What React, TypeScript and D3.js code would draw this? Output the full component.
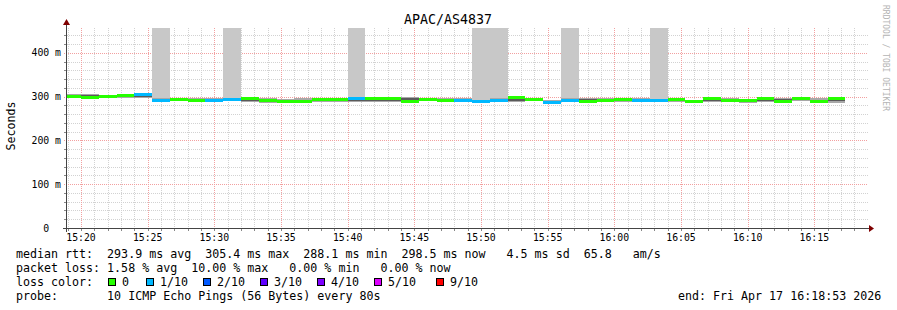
import React from 'react';
import * as d3 from 'd3';

const title = 'APAC/AS4837';
const yAxisLabel = 'Seconds';
const watermark = 'RRDTOOL / TOBI OETIKER';
const stepSeconds = 80;
const firstStart = new Date(2026, 3, 17, 15, 18, 40);
const viewStart = new Date(2026, 3, 17, 15, 18, 57);
const viewEnd = new Date(2026, 3, 17, 16, 18, 57);

const median = [300.6, 299.4, 300.0, 301.7, 304.7, 290.3, 294.0, 291.8, 290.3, 292.6, 295.6, 290.3, 288.0, 288.0, 292.6, 292.6, 296.4, 295.6, 296.0, 288.8, 292.6, 290.3, 291.0, 288.0, 291.8, 297.9, 292.6, 287.3, 290.3, 288.8, 290.3, 292.6, 291.0, 291.0, 293.4, 288.8, 296.4, 290.3, 290.3, 294.9, 289.6, 296.4, 289.6, 296.4];
const smokeMax = [306, 306, 302, 306, 307, 297, 295, 297, 297, 296, 298, 297, 294, 296, 296, 296, 298, 298, 298, 300, 298, 297, 297, 290, 297, 299, 297, 292, 297, 297, 297, 296, 297, 294, 297, 292, 298, 296, 294, 297, 297, 298, 296, 298];
const smokeMin = [297, 297, 297, 296, 297, 288, 290, 290, 288, 290, 288, 286, 285, 285, 287, 287, 288, 288, 288, 287, 290, 288, 288, 285, 290, 288, 290, 285, 288, 288, 288, 287, 288, 288, 288, 287, 288, 288, 286, 288, 286, 291, 286, 286];
const lostPings = [0, 0, 0, 0, 0, 1, 0, 0, 0, 1, 0, 0, 0, 0, 0, 0, 1, 0, 0, 0, 0, 0, 0, 1, 1, 0, 0, 0, 1, 0, 0, 0, 0, 1, 0, 0, 0, 0, 0, 0, 0, 0, 0, 0];
const bandLoss = [0, 0, 0, 0, 1, 1, 0, 0, 1, 1, 0, 0, 0, 0, 0, 0, 1, 0, 0, 0, 0, 0, 1, 1, 1, 0, 0, 1, 1, 0, 0, 0, 1, 1, 0, 0, 0, 0, 0, 0, 0, 0, 0, 0];

const yTicks = [0, 100, 200, 300, 400];
const yTickLabels = ['0  ', '100 m', '200 m', '300 m', '400 m'];
const yMax = 457.1;

const lossLabels = ['0', '1/10', '2/10', '3/10', '4/10', '5/10', '9/10'];
const lossColors = ['#26ff00', '#00b8ff', '#0059ff', '#5e00ff', '#7e00ff', '#dd00ff', '#ff0000'];
const lossBoxX = [108, 146, 203, 260, 317, 374, 436];

const legendLines = [
  'median rtt:  293.9 ms avg  305.4 ms max  288.1 ms min  298.5 ms now   4.5 ms sd  65.8   am/s',
  'packet loss: 1.58 % avg  10.00 % max   0.00 % min   0.00 % now',
  'loss color:',
  'probe:       10 ICMP Echo Pings (56 Bytes) every 80s',
];
const endLabel = 'end: Fri Apr 17 16:18:53 2026';

const W = 897;
const H = 310;
const left = 67;
const right = 867;
const top = 28;
const bottom = 228;
const mono = '"DejaVu Sans Mono", monospace';
const minorColor = '#d2d2d2';
const majorColor = '#f2a0a0';

export default function App() {
  const x = d3.scaleTime().domain([viewStart, viewEnd]).range([left, right]);
  const y = d3.scaleLinear().domain([0, yMax]).range([bottom, top]);
  const majorX = d3.timeMinute.every(5)!.range(viewStart, viewEnd);
  const minorX = d3.timeMinute.every(1)!.range(viewStart, viewEnd);
  const minorY = d3.range(20, yMax, 20).filter((v) => v % 100 !== 0);
  const fmt = d3.timeFormat('%H:%M');
  const px = (v: number) => Math.round(v) + 0.5;

  const intervals = median.map((m, i) => {
    const t0 = new Date(firstStart.getTime() + i * stepSeconds * 1000);
    const t1 = new Date(t0.getTime() + stepSeconds * 1000);
    const x0 = Math.round(Math.max(left, x(t0)));
    const x1 = Math.round(Math.min(right, x(t1)));
    return { m, i, x0, x1, hi: smokeMax[i], lo: smokeMin[i] };
  });

  return (
    <svg width={W} height={H} style={{ position: 'absolute', left: 0, top: 0, background: '#fff' }}>
      <rect x={0} y={0} width={W} height={H} fill="#ffffff" />
      {/* minor grid */}
      {minorX.map((t, i) => (
        <line key={'mx' + i} x1={px(x(t))} x2={px(x(t))} y1={top} y2={bottom} stroke={minorColor} strokeDasharray="1,1" strokeWidth={1} />
      ))}
      {minorY.map((v, i) => (
        <line key={'my' + i} x1={left} x2={right + 1} y1={px(y(v))} y2={px(y(v))} stroke={minorColor} strokeDasharray="1,1" strokeWidth={1} />
      ))}
      {/* major grid */}
      {majorX.map((t, i) => (
        <line key={'Mx' + i} x1={px(x(t))} x2={px(x(t))} y1={top} y2={bottom + 2} stroke={majorColor} strokeDasharray="1,1" strokeWidth={1} />
      ))}
      {yTicks.filter((v) => v > 0).map((v, i) => (
        <line key={'My' + i} x1={left - 3} x2={right + 1} y1={px(y(v))} y2={px(y(v))} stroke={majorColor} strokeDasharray="1,1" strokeWidth={1} />
      ))}
      {/* axis ticks */}
      {minorY.map((v, i) => (
        <line key={'ty' + i} x1={left - 3} x2={left} y1={px(y(v))} y2={px(y(v))} stroke="#888" strokeWidth={1} />
      ))}
      {minorX.map((t, i) => (
        <line key={'tx' + i} x1={px(x(t))} x2={px(x(t))} y1={bottom} y2={bottom + 3} stroke="#888" strokeWidth={1} />
      ))}
      {/* loss bars */}
      {intervals.filter((d) => lostPings[d.i] > 0).map((d) => (
        <rect key={'lb' + d.i} x={d.x0} y={top} width={d.x1 - d.x0} height={y(d.hi) - top} fill="#c8c8c8" shapeRendering="crispEdges" />
      ))}
      {/* smoke */}
      {intervals.map((d) => (
        <rect key={'so' + d.i} x={d.x0} y={y(d.hi)} width={d.x1 - d.x0} height={y(d.lo) - y(d.hi)} fill="#a8a8a8" shapeRendering="crispEdges" />
      ))}
      {intervals.map((d) => {
        const a = d.lo + (d.hi - d.lo) * 0.3;
        const b = d.lo + (d.hi - d.lo) * 0.7;
        return <rect key={'si' + d.i} x={d.x0} y={y(b)} width={d.x1 - d.x0} height={y(a) - y(b)} fill="#5a5a5a" shapeRendering="crispEdges" />;
      })}
      {/* median band */}
      {intervals.map((d) => (
        <rect key={'md' + d.i} x={d.x0} y={Math.round(y(d.m) - 1.5)} width={d.x1 - d.x0} height={3} fill={lossColors[bandLoss[d.i]]} shapeRendering="crispEdges" />
      ))}
      {/* axes */}
      <line x1={63} x2={869} y1={bottom + 0.5} y2={bottom + 0.5} stroke="#444" strokeWidth={1} />
      <line x1={left - 0.5} x2={left - 0.5} y1={bottom + 4} y2={24} stroke="#444" strokeWidth={1} />
      <path d={`M869,${bottom - 3} L874,${bottom + 0.5} L869,${bottom + 4} Z`} fill="#7f0000" />
      <path d={`M${left - 4},25 L${left - 0.5},19 L${left + 3},25 Z`} fill="#7f0000" />
      {/* x labels */}
      {majorX.map((t, i) => (
        <text key={'xl' + i} x={x(t)} y={241} textAnchor="middle" fontFamily={mono} fontSize={9.8} fill="#000">
          {fmt(t)}
        </text>
      ))}
      {/* y labels */}
      {yTicks.map((v, i) => (
        <text key={'yl' + i} x={61} y={y(v) + 3.5} textAnchor="end" fontFamily={mono} fontSize={9.8} fill="#000" style={{ whiteSpace: 'pre' }}>
          {yTickLabels[i]}
        </text>
      ))}
      <text transform={`translate(15,126) rotate(-90)`} textAnchor="middle" fontFamily={mono} fontSize={11.6} fill="#000">
        {yAxisLabel}
      </text>
      <text x={448} y={24} textAnchor="middle" fontFamily={mono} fontSize={13.3} fill="#000">
        {title}
      </text>
      <text transform={`translate(883,5) rotate(90)`} textAnchor="start" fontFamily={mono} fontSize={8} fill="#b4b4b4">
        {watermark}
      </text>
      {/* legend */}
      {legendLines.map((s, i) => (
        <text key={'lg' + i} x={16} y={258 + i * 14} fontFamily={mono} fontSize={11.65} fill="#000" style={{ whiteSpace: 'pre' }}>
          {s}
        </text>
      ))}
      {lossLabels.map((l, i) => (
        <g key={'lc' + i}>
          <rect x={lossBoxX[i] + 0.5} y={278.5} width={7} height={7} fill={lossColors[i]} stroke="#000" strokeWidth={1} />
          <text x={lossBoxX[i] + 14} y={286} fontFamily={mono} fontSize={11.65} fill="#000">
            {l}
          </text>
        </g>
      ))}
      <text x={678} y={300} fontFamily={mono} fontSize={11.65} fill="#000" style={{ whiteSpace: 'pre' }}>
        {endLabel}
      </text>
    </svg>
  );
}
